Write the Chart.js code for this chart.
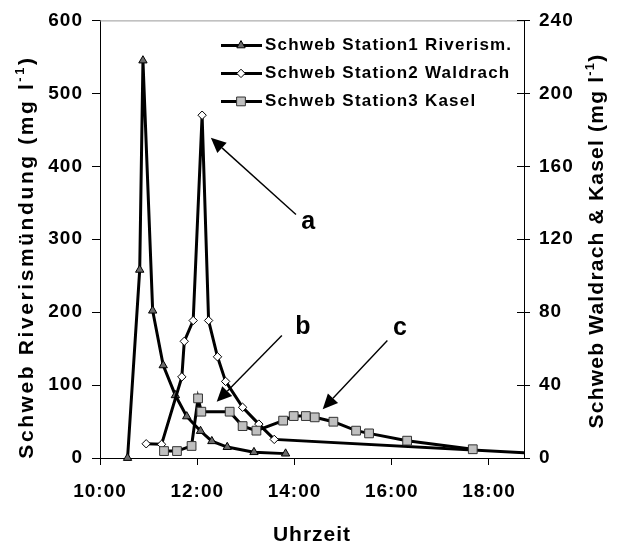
<!DOCTYPE html>
<html>
<head>
<meta charset="utf-8">
<script src="https://cdn.jsdelivr.net/npm/chart.js@4/dist/chart.umd.min.js"></script>
<style>
  body { margin: 0; background: #fff; }
  #wrap { width: 618px; height: 545px; }
</style>
</head>
<body>
<div id="wrap"><canvas id="c" width="618" height="545"></canvas></div>
<script>
// values (times hh:mm, Station1 on left axis, 2 and 3 on right axis)
const seriesNames = ['Schweb Station1 Riverism.', 'Schweb Station2 Waldrach', 'Schweb Station3 Kasel'];

const station1Times = ['10:34','10:49','10:53','11:05','11:18','11:33','11:47','12:04','12:18','12:37','13:10','13:49'];
const station1Values = [0, 258, 545, 202, 127, 86, 57, 37, 23, 15, 8, 6];

// last point lies beyond the right edge of the plot, the line gets clipped there
const station2Times = ['10:57','11:16','11:41','11:44','11:55','12:06','12:14','12:25','12:35','12:56','13:16','13:35','19:30'];
const station2Values = [7.8, 7.5, 44.5, 64, 75.4, 188, 75.4, 55.5, 42, 27.8, 18.6, 10.2, 1.8];

const station3Times = ['11:19','11:35','11:53','12:01','12:05','12:40','12:56','13:13','13:46','13:59','14:14','14:25','14:48','15:16','15:32','16:19','17:40'];
const station3Values = [3.8, 3.8, 6.6, 32.7, 25.4, 25.4, 17.5, 15.0, 20.5, 23.0, 23.0, 22.3, 19.9, 15.0, 13.5, 9.5, 4.8];

const leftTicks = [0, 100, 200, 300, 400, 500, 600];
const rightTicks = [0, 40, 80, 120, 160, 200, 240];
const timeTicks = ['10:00', '12:00', '14:00', '16:00', '18:00'];

// labels a, b, c with arrows (hours / left axis units)
const notes = [
  {text: 'a', at: [14.28, 323], from: [14.03, 334], to: [12.28, 439]},
  {text: 'b', at: [14.17, 180], from: [13.74, 168], to: [12.40, 77]},
  {text: 'c', at: [16.17, 178], from: [15.91, 161], to: [14.58, 67]},
];

const toHours = s => { const p = s.split(':').map(Number); return p[0] + p[1] / 60; };
const pts = (t, v) => t.map((s, i) => ({x: toHours(s), y: v[i]}));
const FONT = "'Liberation Sans', Arial, sans-serif";

const clipAll = {left: 12, top: 12, right: 12, bottom: 12};

function drawMarker(ctx, ds, x, y) {
  ctx.save();
  ctx.fillStyle = ds.pointBackgroundColor;
  ctx.strokeStyle = ds.pointBorderColor;
  ctx.lineWidth = ds.pointBorderWidth;
  const r = ds.pointRadius;
  ctx.beginPath();
  if (ds.pointStyle === 'triangle') {
    ctx.moveTo(x, y - r);
    ctx.lineTo(x + r * Math.sqrt(3) / 2, y + r / 2);
    ctx.lineTo(x - r * Math.sqrt(3) / 2, y + r / 2);
    ctx.closePath();
  } else if (ds.pointStyle === 'rectRot') {
    ctx.moveTo(x, y - r); ctx.lineTo(x + r, y); ctx.lineTo(x, y + r); ctx.lineTo(x - r, y);
    ctx.closePath();
  } else {
    const s = r * Math.SQRT1_2;
    ctx.rect(x - s, y - s, 2 * s, 2 * s);
  }
  ctx.fill();
  ctx.stroke();
  ctx.restore();
}

// rotated axis title with a superscript -1
function drawTitle(ctx, main, cx, cy, spacing) {
  ctx.save();
  ctx.translate(cx, cy);
  ctx.rotate(-Math.PI / 2);
  ctx.letterSpacing = spacing + 'px';
  ctx.fillStyle = '#000';
  ctx.textBaseline = 'middle';
  ctx.textAlign = 'left';
  const big = 'bold 21px ' + FONT, small = 'bold 13px ' + FONT;
  ctx.font = big; const w1 = ctx.measureText(main).width; const w3 = ctx.measureText(')').width;
  ctx.font = small; const w2 = ctx.measureText('-1').width;
  let x = -(w1 + w2 + w3) / 2;
  ctx.font = big; ctx.fillText(main, x, 0); x += w1;
  ctx.font = small; ctx.fillText('-1', x, -7); x += w2;
  ctx.font = big; ctx.fillText(')', x, 0);
  ctx.restore();
}

const extras = {
  id: 'extras',
  beforeDraw(chart) {
    chart.ctx.letterSpacing = '1px';
  },
  afterDraw(chart) {
    const ctx = chart.ctx, a = chart.chartArea;
    const sx = chart.scales.x, sy = chart.scales.y, sy1 = chart.scales.y1;
    ctx.save();
    // top frame line
    ctx.strokeStyle = '#999';
    ctx.lineWidth = 1;
    ctx.beginPath(); ctx.moveTo(a.left, a.top + 0.5); ctx.lineTo(a.right, a.top + 0.5); ctx.stroke();
    // inner half of right axis ticks
    ctx.strokeStyle = '#000';
    rightTicks.forEach(v => {
      const y = Math.round(sy1.getPixelForValue(v)) + 0.5;
      ctx.beginPath(); ctx.moveTo(a.right - 7, y); ctx.lineTo(a.right, y); ctx.stroke();
    });
    // notes with arrows
    ctx.letterSpacing = '0px';
    notes.forEach(n => {
      const x0 = sx.getPixelForValue(n.from[0]), y0 = sy.getPixelForValue(n.from[1]);
      const x1 = sx.getPixelForValue(n.to[0]), y1 = sy.getPixelForValue(n.to[1]);
      const ang = Math.atan2(y1 - y0, x1 - x0);
      const len = 15, hw = 7;
      const bx = x1 - Math.cos(ang) * len, by = y1 - Math.sin(ang) * len;
      ctx.strokeStyle = '#000'; ctx.fillStyle = '#000'; ctx.lineWidth = 1.4;
      ctx.beginPath(); ctx.moveTo(x0, y0); ctx.lineTo(bx, by); ctx.stroke();
      ctx.beginPath();
      ctx.moveTo(x1, y1);
      ctx.lineTo(bx + Math.sin(ang) * hw, by - Math.cos(ang) * hw);
      ctx.lineTo(bx - Math.sin(ang) * hw, by + Math.cos(ang) * hw);
      ctx.closePath(); ctx.fill();
      ctx.font = 'bold 25px ' + FONT;
      ctx.textAlign = 'center'; ctx.textBaseline = 'middle';
      ctx.fillText(n.text, sx.getPixelForValue(n.at[0]), sy.getPixelForValue(n.at[1]));
    });
    // legend, line with marker in the middle
    chart.data.datasets.forEach((ds, i) => {
      const y = a.top + 25 + 28 * i;
      const lx = a.left + 121;
      ctx.strokeStyle = '#000'; ctx.lineWidth = ds.borderWidth;
      ctx.beginPath(); ctx.moveTo(lx, y); ctx.lineTo(lx + 41, y); ctx.stroke();
      drawMarker(ctx, ds, lx + 20, y);
      ctx.fillStyle = '#000';
      ctx.font = 'bold 17px ' + FONT;
      ctx.letterSpacing = '1.2px';
      ctx.textAlign = 'left'; ctx.textBaseline = 'middle';
      ctx.fillText(ds.label, lx + 44, y);
      ctx.letterSpacing = '0px';
    });
    ctx.restore();
    drawTitle(ctx, 'Schweb Riverismündung (mg l', 27, 257, 2.6);
    drawTitle(ctx, 'Schweb Waldrach & Kasel (mg l', 597, 241, 1.2);
  }
};

new Chart(document.getElementById('c'), {
  type: 'line',
  data: {
    datasets: [{
      label: seriesNames[0],
      data: pts(station1Times, station1Values),
      yAxisID: 'y',
      borderColor: '#000', borderWidth: 3,
      pointStyle: 'triangle', pointRadius: 4.8,
      pointBackgroundColor: '#6b6b6b', pointBorderColor: '#000', pointBorderWidth: 1,
      tension: 0, order: 3, clip: clipAll,
    }, {
      label: seriesNames[1],
      data: pts(station2Times, station2Values),
      yAxisID: 'y1',
      borderColor: '#000', borderWidth: 3,
      pointStyle: 'rectRot', pointRadius: 4.2,
      pointBackgroundColor: '#fff', pointBorderColor: '#000', pointBorderWidth: 1,
      tension: 0, order: 2, clip: {left: 12, top: 12, right: 0, bottom: 12},
    }, {
      label: seriesNames[2],
      data: pts(station3Times, station3Values),
      yAxisID: 'y1',
      borderColor: '#000', borderWidth: 3,
      pointStyle: 'rect', pointRadius: 6.2,
      pointBackgroundColor: '#c0c0c0', pointBorderColor: '#333', pointBorderWidth: 1,
      tension: 0, order: 1, clip: clipAll,
    }]
  },
  options: {
    responsive: false,
    animation: false,
    events: [],
    layout: {padding: {top: 20, left: 0, right: 0, bottom: 0}},
    plugins: {legend: {display: false}, tooltip: {enabled: false}},
    scales: {
      x: {
        type: 'linear', position: 'bottom',
        min: 10, max: 18.72,
        afterBuildTicks: s => { s.ticks = timeTicks.map(t => ({value: toHours(t)})); },
        afterFit: s => { s.height = 87; },
        ticks: {
          callback: v => timeTicks.find(t => toHours(t) === v) || '',
          font: {family: FONT, size: 19, weight: 'bold'}, color: '#000', padding: 15,
          maxRotation: 0, autoSkip: false,
        },
        grid: {drawOnChartArea: false, drawTicks: true, tickLength: 7, color: '#000'},
        border: {display: true, color: '#000', width: 1},
        title: {display: true, text: 'Uhrzeit', color: '#000',
                font: {family: FONT, size: 21, weight: 'bold'}, padding: {top: 0, bottom: -3}},
      },
      y: {
        type: 'linear', position: 'left',
        min: 0, max: 600,
        afterBuildTicks: s => { s.ticks = leftTicks.map(v => ({value: v})); },
        afterFit: s => { s.width = 100; },
        ticks: {font: {family: FONT, size: 19, weight: 'bold'}, color: '#000', padding: 9},
        grid: {drawOnChartArea: false, drawTicks: true, tickLength: 8, color: '#000'},
        border: {display: true, color: '#000', width: 1},
      },
      y1: {
        type: 'linear', position: 'right',
        min: 0, max: 240,
        afterBuildTicks: s => { s.ticks = rightTicks.map(v => ({value: v})); },
        afterFit: s => { s.width = 94; },
        ticks: {font: {family: FONT, size: 19, weight: 'bold'}, color: '#000', padding: 9},
        grid: {drawOnChartArea: false, drawTicks: true, tickLength: 6, color: '#000'},
        border: {display: true, color: '#000', width: 1},
      }
    }
  },
  plugins: [extras]
});
</script>
</body>
</html>
